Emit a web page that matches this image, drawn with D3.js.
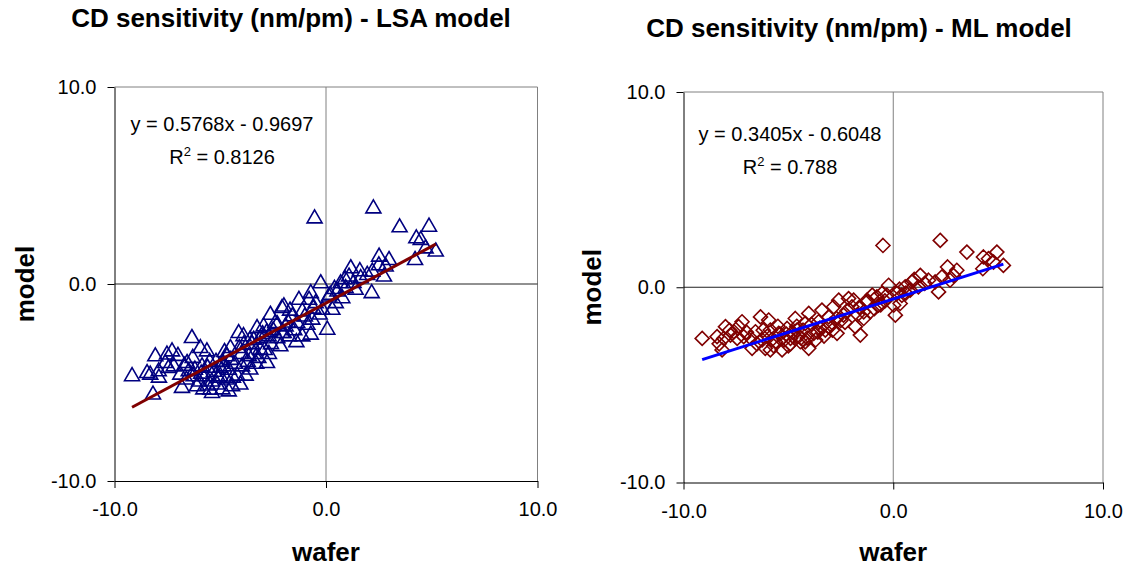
<!DOCTYPE html>
<html>
<head>
<meta charset="utf-8">
<script src="https://cdn.jsdelivr.net/npm/d3@7"></script>
<style>
  body { margin: 0; background: #fff; }
  text { font-family: "Liberation Sans", Arial, sans-serif; fill: #000; }
</style>
</head>
<body>
<svg id="svg"></svg>
<script>
/* CD sensitivity scatter: wafer vs model, LSA and ML model side by side */

// LSA model points (wafer, model)
const lsaWafer = [-9.17, -8.18, -8.07, -8.46, -7.91, -8.31, -7.52, -7.28, -7.20, -7.60, -7.44, -6.34, -5.94, -5.63,
  -6.89, -6.81, -6.57, -6.49, -6.26, -6.10, -5.86, -5.71, -5.47, -5.39, -5.15, -5.00, -4.84, -4.68, -4.52, -4.44,
  -4.05, -4.13, -3.89, -3.97, -3.65, -3.58, -3.42, -3.26, -3.11, -2.95, -2.79, -2.71, -2.63, -2.40, -2.16, -2.08, -2.00,
  -6.0, -5.8, -5.6, -5.3, -5.2, -4.9, -4.7, -4.6, -4.3, -4.2, -4.0, -3.8, -3.7, -3.4, -3.3, -3.1, -2.9, -2.6, -2.5,
  -6.6, -6.3, -5.5, -5.1, -4.5, -3.9, -3.5, -2.8, -7.9, -7.0,
  -5.9, -5.4, -5.0, -4.8, -4.4, -4.1, -3.6, -3.2, -3.0, -2.7, -2.3, -1.8, -6.7, -6.2, -5.6, -4.9, -4.6,
  -0.54, 2.24, 3.48, 4.87, 4.27, 4.48, 4.71, 5.19, 4.21, 2.51, 2.98, 2.82, 2.74, 2.19, 2.16, 1.95, 1.64, 1.40, 1.17,
  1.09, 0.93, 0.69, 0.54, 0.77, 0.46, 0.30, 0.06, -0.25, 0.14, -0.72, -0.80, -0.49, -0.17, -1.28, -1.12, -1.99, -1.59,
  -1.36, -0.88, -0.65, -1.91, -1.75, -1.12, -0.72, -2.07, -1.5, -1.0, -0.3, -1.7, -2.3, 0.4, 1.3, -1.4,
  -0.6, 0.2, 0.9, 1.6, 2.5];
const lsaModel = [-4.63, -5.56, -3.62, -4.47, -4.38, -4.55, -3.53, -3.37, -4.13, -3.96, -4.21, -2.69, -3.20, -3.37,
  -4.55, -5.22, -3.96, -4.38, -4.63, -5.14, -4.13, -4.63, -5.31, -5.48, -5.05, -4.63, -4.13, -3.62, -3.20, -5.14,
  -5.05, -2.44, -3.03, -4.13, -3.62, -4.29, -2.78, -2.19, -3.28, -2.10, -3.96, -2.61, -1.51, -1.93, -3.11, -1.17, -2.44,
  -4.9, -5.3, -4.2, -4.4, -3.9, -5.3, -4.8, -4.3, -4.0, -4.6, -3.5, -4.6, -3.9, -3.5, -4.0, -2.7, -3.3, -3.0, -2.3,
  -4.8, -3.7, -3.9, -4.7, -3.8, -2.6, -3.0, -2.4, -4.7, -3.6,
  -4.5, -4.9, -4.2, -3.4, -4.7, -3.2, -2.8, -3.7, -2.5, -3.5, -2.7, -1.9, -4.1, -4.3, -5.1, -3.9, -5.4,
  3.38, 3.89, 2.93, 2.96, 2.37, 2.29, 1.86, 1.70, 1.27, 1.44, 1.27, 0.94, 0.43, 0.68, -0.41, 0.51, 0.35, -0.24, 0.85,
  0.43, -0.16, 0.09, -0.33, -0.67, -0.92, -1.26, -2.27, 0.09, -0.58, -0.41, -0.75, -0.92, -1.26, -0.75, -1.34, -1.09, -1.59,
  -1.93, -2.02, -1.76, -2.10, -2.61, -2.61, -2.52, -2.44, -2.3, -1.6, -1.5, -1.3, -2.0, -0.2, 0.1, -2.9,
  -1.2, -0.5, 0.3, 0.7, 1.0];

// ML model points (wafer, model)
const mlWafer = [-9.11, -8.16, -8.40, -8.08, -8.00, -7.76, -7.60, -7.37, -7.21, -7.44, -7.13, -6.73, -6.33, -6.57,
  -6.25, -5.94, -5.86, -6.10, -5.86, -5.62, -5.46, -5.30, -5.06, -4.90, -4.67, -4.59, -4.43, -4.19, -4.03, -4.03,
  -3.79, -3.56, -3.40, -3.24, -3.08, -2.84, -2.68, -2.60, -2.37, -2.13, -1.97, -1.89, -1.81, -1.57, -1.41, -1.25,
  -6.0, -5.7, -5.5, -5.2, -5.0, -4.8, -4.5, -4.3, -4.1, -3.9, -3.7, -3.5, -3.3, -3.0, -2.9, -2.5, -2.2,
  -6.8, -6.5, -7.0, -7.8, -8.3,
  -5.8, -5.4, -4.9, -4.6, -4.2, -3.6, -3.1, -2.7, -2.3, -1.7, -6.2, -5.1, -4.4,
  -0.49, 2.24, 3.51, 4.94, 4.30, 4.54, 4.78, 5.25, 4.27, 2.59, 3.03, 2.87, 2.71, 2.32, 2.16, 2.00, 1.68, 1.29, 1.20,
  0.89, 0.81, 0.57, 0.41, 0.33, 0.17, -0.22, -0.30, 0.10, 0.02, -0.54, -0.78, -0.70, -1.25, -1.10, -1.41,
  -0.9, -0.4, -1.6, -1.0, 0.6, 1.5, -0.6, 0.3, 1.0];
const mlModel = [-2.62, -3.21, -2.53, -2.62, -2.02, -2.45, -2.28, -2.02, -1.77, -2.62, -2.53, -3.13, -1.52, -2.28,
  -2.70, -1.68, -2.19, -3.13, -3.21, -2.79, -2.36, -3.21, -2.11, -2.62, -1.60, -2.19, -2.79, -1.85, -1.34, -3.13,
  -2.36, -1.77, -1.17, -2.19, -1.52, -1.00, -2.36, -0.66, -1.43, -0.58, -1.00, -0.66, -2.02, -2.45, -1.26, -0.66,
  -2.5, -3.0, -2.0, -2.7, -3.0, -2.3, -2.5, -2.2, -2.6, -1.9, -2.7, -2.1, -2.5, -1.9, -2.2, -1.7, -1.2,
  -2.6, -2.9, -2.3, -2.2, -2.9,
  -2.7, -2.4, -2.9, -2.0, -2.8, -2.3, -2.0, -1.6, -1.8, -1.4, -2.2, -2.4, -2.6,
  2.14, 2.40, 1.80, 1.80, 1.55, 1.46, 1.29, 1.12, 0.95, 1.04, 0.87, 0.61, 0.36, 0.53, -0.24, 0.27, 0.36, 0.61, 0.02,
  0.27, -0.15, 0.02, -0.41, -0.83, -0.32, 0.10, -0.41, -1.43, -0.92, -0.32, -0.49, -0.92, -0.75, -1.26, -1.60,
  -1.1, -0.7, -1.0, -0.4, -0.3, 0.2, -0.9, -0.1, 0.4];

// linear trendlines (slope, intercept) and their labels
const lsaFit = [0.5768, -0.9697];
const mlFit = [0.3405, -0.6048];
const lsaEq = ["y = 0.5768x - 0.9697", "0.8126"];
const mlEq = ["y = 0.3405x - 0.6048", "0.788"];

const axisTicks = [-10, 0, 10];
const titles = ["CD sensitivity (nm/pm) - LSA model", "CD sensitivity (nm/pm) - ML model"];

const W = 1130, H = 567;
const svg = d3.select("#svg").attr("width", W).attr("height", H);

const triangle = "M0,-7.5 L7.5,5.5 L-7.5,5.5 Z";
const diamond = "M0,-7 L7,0 L0,7 L-7,0 Z";

function drawPanel(p) {
  let x = d3.scaleLinear().domain([-10, 10]).range([p.left, p.right]);
  let y = d3.scaleLinear().domain([-10, 10]).range([p.bottom, p.top]);
  let g = svg.append("g");

  // title
  g.append("text")
    .attr("x", p.titleX).attr("y", p.titleY)
    .attr("text-anchor", "middle")
    .style("font-size", "26px").style("font-weight", "bold")
    .text(p.title);

  // frame: grey top/right, zero lines
  g.append("line").attr("x1", x(-10)).attr("x2", x(10)).attr("y1", y(10)).attr("y2", y(10)).attr("stroke", "#808080");
  g.append("line").attr("x1", x(10)).attr("x2", x(10)).attr("y1", y(10)).attr("y2", y(-10)).attr("stroke", "#808080");
  g.append("line").attr("x1", x(0)).attr("x2", x(0)).attr("y1", y(10)).attr("y2", y(-10)).attr("stroke", "#808080");
  g.append("line").attr("x1", x(-10)).attr("x2", x(10)).attr("y1", y(0)).attr("y2", y(0)).attr("stroke", "#222");

  // axes
  let fmt = d => d.toFixed(1);
  let ax = g.append("g").attr("transform", `translate(0,${y(-10)})`)
    .call(d3.axisBottom(x).tickValues(axisTicks).tickFormat(fmt).tickSize(7).tickSizeOuter(0));
  let ay = g.append("g").attr("transform", `translate(${x(-10)},0)`)
    .call(d3.axisLeft(y).tickValues(axisTicks).tickFormat(fmt).tickSize(7).tickSizeOuter(0));
  [ax, ay].forEach(a => {
    a.select(".domain").attr("stroke", "#000");
    a.selectAll(".tick line").attr("stroke", "#000");
    a.selectAll(".tick text").style("font-size", "20px").attr("fill", "#000")
      .style("font-family", '"Liberation Sans", Arial, sans-serif');
  });
  ax.selectAll(".tick text").attr("dy", "1.25em");
  ay.selectAll(".tick text").attr("x", -18);

  // axis titles
  g.append("text")
    .attr("x", x(0)).attr("y", p.xLabelY)
    .attr("text-anchor", "middle")
    .style("font-size", "26px").style("font-weight", "bold")
    .text("wafer");
  g.append("text")
    .attr("transform", `translate(${p.yLabelX},${y(0)}) rotate(-90)`)
    .attr("text-anchor", "middle")
    .style("font-size", "26px").style("font-weight", "bold")
    .text("model");

  // points
  let pts = p.wafer.map((w, i) => [w, p.model[i]]);
  g.selectAll("path.pt")
    .data(pts)
    .enter()
    .append("path")
    .attr("class", "pt")
    .attr("d", p.marker)
    .attr("transform", d => `translate(${x(d[0])},${y(d[1])})`)
    .attr("fill", "none")
    .attr("stroke", p.color)
    .attr("stroke-width", 1.6);

  // trendline over the data range
  let xr = d3.extent(p.wafer);
  g.append("line")
    .attr("x1", x(xr[0])).attr("y1", y(p.fit[0] * xr[0] + p.fit[1]))
    .attr("x2", x(xr[1])).attr("y2", y(p.fit[0] * xr[1] + p.fit[1]))
    .attr("stroke", p.lineColor)
    .attr("stroke-width", 3);

  // equation label
  let eq = g.append("g").style("font-size", "20px");
  eq.append("text")
    .attr("x", p.eqX).attr("y", p.eqY)
    .attr("text-anchor", "middle")
    .text(p.eq[0]);
  let r2 = eq.append("text")
    .attr("x", p.eqX).attr("y", p.eqY + 33)
    .attr("text-anchor", "middle");
  r2.append("tspan").text("R");
  r2.append("tspan").attr("dy", -8).style("font-size", "13px").text("2");
  r2.append("tspan").attr("dy", 8).text(" = " + p.eq[1]);
}

drawPanel({
  title: titles[0], titleX: 291, titleY: 27,
  left: 114.5, right: 537.5, top: 87, bottom: 481,
  xLabelY: 561, yLabelX: 34,
  wafer: lsaWafer, model: lsaModel, marker: triangle, color: "#000080",
  fit: lsaFit, lineColor: "#800000",
  eq: lsaEq, eqX: 222, eqY: 131
});

drawPanel({
  title: titles[1], titleX: 859, titleY: 37,
  left: 683.5, right: 1103, top: 92, bottom: 482.5,
  xLabelY: 561, yLabelX: 601,
  wafer: mlWafer, model: mlModel, marker: diamond, color: "#800000",
  fit: mlFit, lineColor: "#0000ff",
  eq: mlEq, eqX: 790, eqY: 141
});
</script>
</body>
</html>
